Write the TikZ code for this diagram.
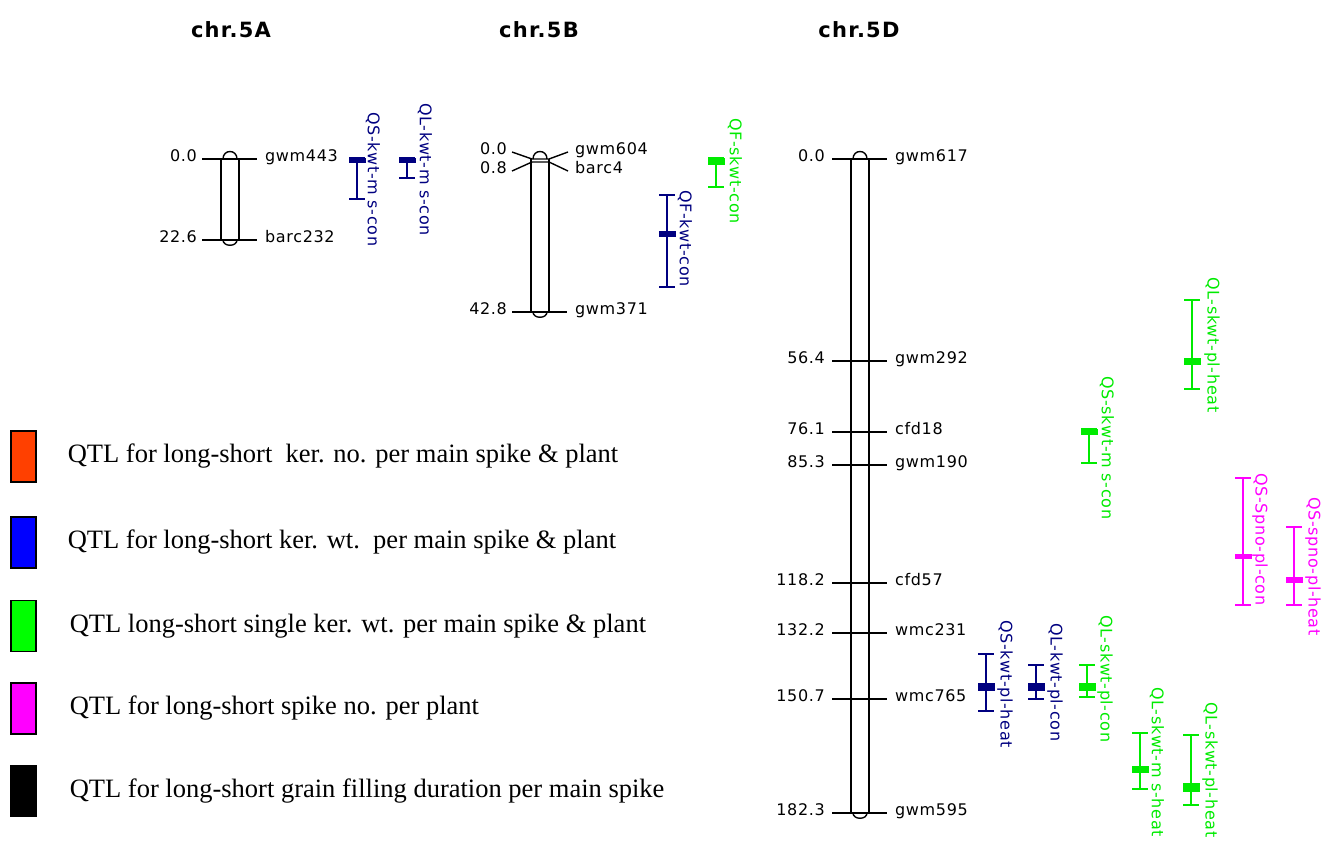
\documentclass[tikz,border=0pt]{standalone}
\usepackage{fontspec}
\setmainfont{Liberation Serif}
\newfontfamily\mapfont[LetterSpace=4]{DejaVu Sans}
\newfontfamily\chrfont[LetterSpace=6]{DejaVu Sans}
\usetikzlibrary{positioning}

\definecolor{qnavy}{RGB}{0,0,128}
\definecolor{qgreen}{RGB}{0,235,0}
\definecolor{qpink}{RGB}{255,0,255}
\definecolor{legred}{RGB}{255,64,0}
\definecolor{legblue}{RGB}{0,0,255}
\definecolor{leggreen}{RGB}{0,255,0}

% one linkage group: centre x, top y, bottom y
\newcommand\chrom[3]{%
  \draw[chromline] (#1-9,#2) -- (#1-9,#3) (#1+9,#2) -- (#1+9,#3);
  \draw[chromline] (#1-7,#2) .. controls (#1-7,#2-10) and (#1+7,#2-10) .. (#1+7,#2);
  \draw[chromline] (#1-7,#3) .. controls (#1-7,#3+7) and (#1+7,#3+7) .. (#1+7,#3);
}

\begin{document}
\begin{tikzpicture}[x=1pt, y=-1pt,
  every node/.style={inner sep=0pt},
  maplbl/.style={font=\mapfont\fontsize{16}{16}\selectfont},
  chrtitle/.style={font=\chrfont\bfseries\fontsize{21}{21}\selectfont},
  chromline/.style={line width=1.4pt},
  qtllbl/.style={rotate=-90, anchor=west, font=\mapfont\fontsize{16}{16}\selectfont},
  legbox/.style={draw, line width=1.2pt, minimum width=25pt, minimum height=51pt},
  legtext/.style={font=\fontsize{26.5}{26.5}\selectfont, anchor=west}]
\useasboundingbox (0,0) rectangle (1326,841);

% titles
\node[chrtitle] (t5A) at (231,30) {chr.5A};
\node[chrtitle] (t5B) at (539,30) {chr.5B};
\node[chrtitle] (t5D) at (859,30) {chr.5D};

% chr.5A
\chrom{230}{159}{240}
\foreach \d/\m [count=\i] in {0.0/gwm443, 22.6/barc232} {
  \pgfmathsetmacro\yy{round(159+3.585*\d)}
  \draw[chromline] (202,\yy) -- (257,\yy);
  \node[maplbl, anchor=mid east] (d5A-\i) at (197,\yy) {\d};
  \node[maplbl, anchor=mid west] (m5A-\i) at (265,\yy) {\m};
}

% chr.5B
\chrom{540}{159}{312}
\draw[chromline] (512,152) -- (532,159) -- (549,159) -- (568,152);
\draw[chromline] (512,171) -- (532,162) -- (549,162) -- (568,171);
\draw[chromline] (512,312) -- (567,312);
\node[maplbl, anchor=mid east] (d5B-1) at (507,152) {0.0};
\node[maplbl, anchor=mid east] (d5B-2) at (507,171) {0.8};
\node[maplbl, anchor=mid east] (d5B-3) at (507,312) {42.8};
\node[maplbl, anchor=mid west] (m5B-1) at (575,152) {gwm604};
\node[maplbl, anchor=mid west] (m5B-2) at (575,171) {barc4};
\node[maplbl, anchor=mid west] (m5B-3) at (575,312) {gwm371};

% chr.5D
\chrom{860}{159}{813}
\foreach \d/\m [count=\i] in {0.0/gwm617, 56.4/gwm292, 76.1/cfd18, 85.3/gwm190,
    118.2/cfd57, 132.2/wmc231, 150.7/wmc765, 182.3/gwm595} {
  \pgfmathsetmacro\yy{round(159+3.585*\d)}
  \draw[chromline] (832,\yy) -- (887,\yy);
  \node[maplbl, anchor=mid east] (d5D-\i) at (825,\yy) {\d};
  \node[maplbl, anchor=mid west] (m5D-\i) at (895,\yy) {\m};
}

% QTL intervals: x / whisker top / whisker bottom / box top / box bottom / colour / label x / label y / name
\foreach \x/\wt/\wb/\bt/\bb/\c/\lx/\ly/\t [count=\i] in {
    357/158/199/158/163/qnavy/373/112/QS-kwt-m s-con,
    407/158/178/158/163/qnavy/425/103/QL-kwt-m s-con,
    667/195/287/231/237/qnavy/685/190/QF-kwt-con,
    716/158/187/158/165/qgreen/735/118/QF-skwt-con,
    1192/300/389/358/365/qgreen/1212/277/QL-skwt-pl-heat,
    1089/429/463/429/435/qgreen/1107/376/QS-skwt-m s-con,
    1243/478/605/554/559/qpink/1260/473/QS-Spno-pl-con,
    1294/527/605/577/583/qpink/1313/497/QS-spno-pl-heat,
    986/654/711/683/691/qnavy/1005/620/QS-kwt-pl-heat,
    1036/665/699/683/691/qnavy/1055/623/QL-kwt-pl-con,
    1087/665/697/683/691/qgreen/1105/615/QL-skwt-pl-con,
    1140/733/789/766/773/qgreen/1157/687/QL-skwt-m s-heat,
    1191/735/805/783/792/qgreen/1210/702/QL-skwt-pl-heat} {
  \draw[\c, line width=1.2pt] (\x,\wt) -- (\x,\wb) (\x-8,\wt) -- (\x+8,\wt) (\x-8,\wb) -- (\x+8,\wb);
  \fill[\c] (\x-8.5,\bt) rectangle (\x+8.5,\bb);
  \node[qtllbl, text=\c] (q-\i) at (\lx,\ly) {\t};
}

% legend
\node[legbox, fill=legred] (kno) at (23.5,456.5) {};
\node[legbox, fill=legblue] (kwt) at (23.5,542.5) {};
\node[legbox, fill=leggreen] (skwt) at (23.5,626) {};
\node[legbox, fill=qpink] (spno) at (23.5,708.5) {};
\node[legbox, fill=black] (gfd) at (23.5,791) {};
\node[legtext, right=31pt of kno] (kno-t) {QTL for long-short\ \ ker. no. per main spike \& plant};
\node[legtext, right=31pt of kwt] (kwt-t) {QTL for long-short ker. wt.\ \ per main spike \& plant};
\node[legtext, right=33pt of skwt] (skwt-t) {QTL long-short single ker. wt. per main spike \& plant};
\node[legtext, right=33pt of spno] (spno-t) {QTL for long-short spike no. per plant};
\node[legtext, right=33pt of gfd] (gfd-t) {QTL for long-short grain filling duration per main spike};
\end{tikzpicture}
\end{document}
